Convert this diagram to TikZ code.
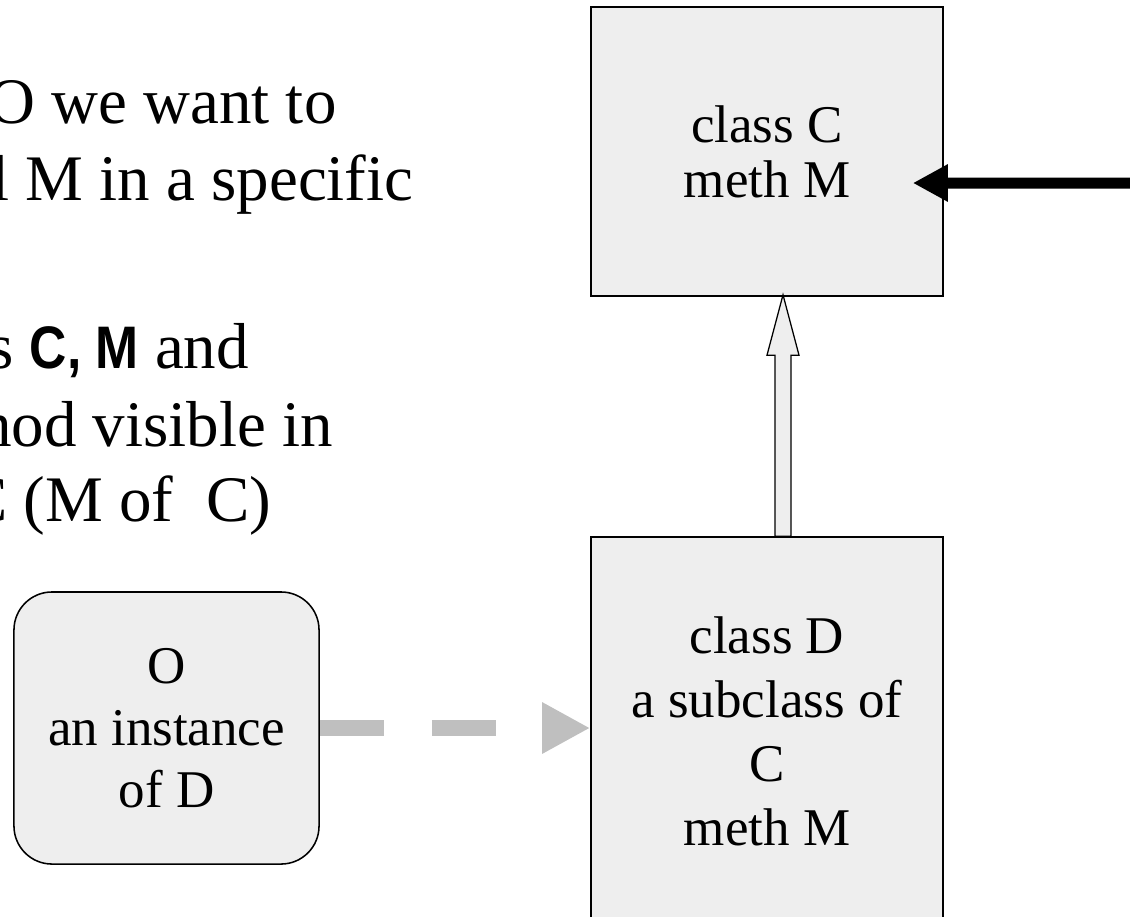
\documentclass[tikz,border=0pt]{standalone}
\usepackage{fontspec}
\setmainfont{Liberation Serif}
\newfontfamily\narrowsans[FakeStretch=0.86]{Liberation Sans}
\usetikzlibrary{positioning}
\usetikzlibrary{arrows.meta}
\usetikzlibrary{calc}
\definecolor{boxgray}{HTML}{EEEEEE}
\definecolor{linkgray}{HTML}{BFBFBF}
\tikzset{
    classbox/.style={
        draw,
        line width=1.1pt,
        fill=boxgray,
        align=center,
        inner sep=0pt,
        minimum width=8.8cm,
        font=\fontsize{37.7}{45.5}\selectfont},
    instbox/.style={
        classbox,
        rounded corners=0.95cm,
        minimum width=7.625cm,
        minimum height=6.8cm,
        font=\fontsize{37.7}{44.1}\selectfont},
    notetext/.style={
        anchor=base west,
        inner sep=0pt,
        font=\fontsize{46.2}{55}\selectfont},
    feedarrow/.style={
        draw,
        line width=0.275cm,
        -{Triangle[length=0.875cm,width=0.875cm]}},
    linkarrow/.style={
        draw=linkgray,
        line width=0.4cm,
        dash pattern=on 1.6cm off 1.2cm,
        -{Triangle[length=1.2cm,width=1.2cm]}},
    inheritarrow/.style={
        draw,
        line width=0.9pt,
        fill=boxgray,
        line join=miter}}

\begin{document}
\begin{tikzpicture}[x=0.025cm,y=-0.025cm]
    \path[use as bounding box,clip] (0,0) rectangle (1130,916);

    \node[notetext] (goalA) at (-12,123) {O we want to};
    \node[notetext] (goalB) at (-9,200) {l M in a specific};
    \node[notetext] (lookA) at (-12,368) {s {\narrowsans\bfseries\fontsize{42.7}{55}\selectfont C, M} and};
    \node[notetext] (lookB) at (-21,446) {hod visible in};
    \node[notetext] (lookC) at (-36,521) {C (M of~ C)};

    \node[classbox,minimum height=7.225cm,font=\fontsize{37.7}{39.1}\selectfont] (boxC) at (767,151.5) {class C\\meth M};
    \node[classbox,minimum height=9.7cm] (boxD) at (767,731) {class D\\a subclass of\\C\\meth M};
    \node[instbox] (instO) at (166.5,728) {O\\an instance\\of D};

    \coordinate (feed) at (1160,183);

    \draw[feedarrow] (feed) -- ($(boxC.east)+(-31,31.5)$);
    \draw[linkarrow] (instO.east) -- (instO.east -| boxD.west);
    \draw[inheritarrow] ($(boxD.north)+(8,0)$) -- ++(0,-181) -- ++(-8,0)
        -- ($(boxC.south)+(16,-2)$) -- ($(boxD.north)+(32,-181)$) -- ++(-8,0)
        -- ($(boxD.north)+(24,0)$) -- cycle;
\end{tikzpicture}
\end{document}
